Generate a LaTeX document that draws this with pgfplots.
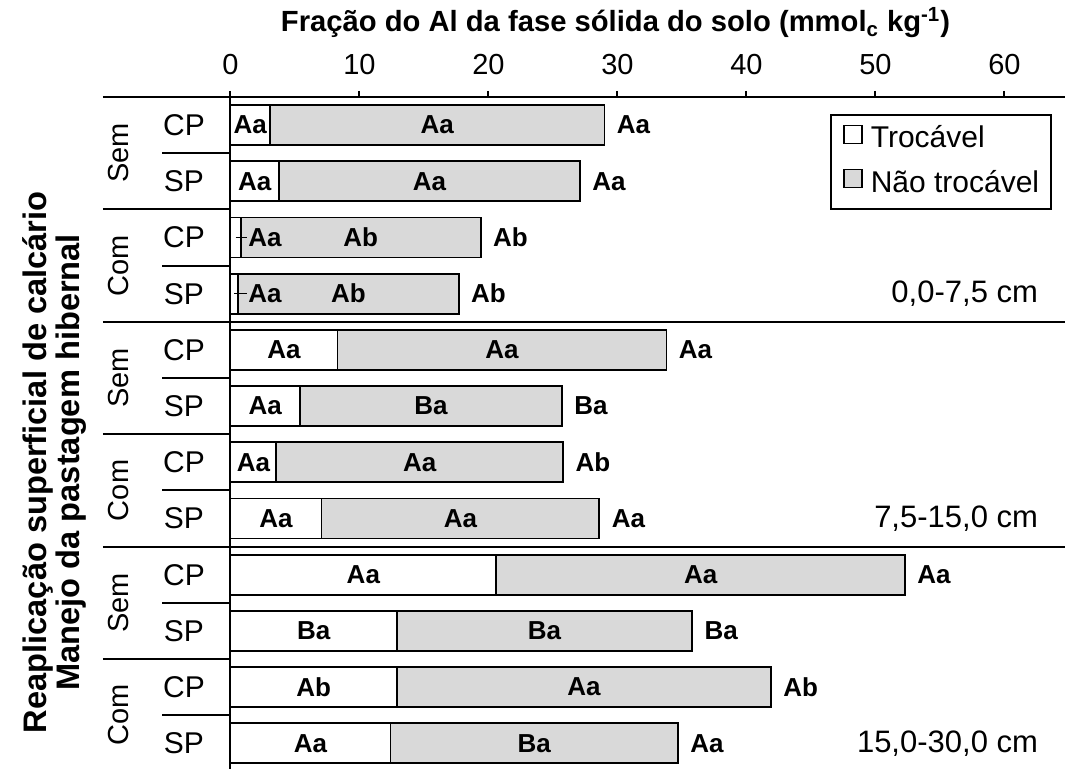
\documentclass[border=0pt]{standalone}
\usepackage{fontspec}
\setmainfont{Liberation Sans}
\usepackage{pgfplots}
\usepackage{pgfplotstable}
\pgfplotsset{compat=1.18}
\definecolor{cinza}{HTML}{D9D9D9}

% p = 13 - linha (linha 1 no topo)
\pgfplotstableread{
p  troc  nao
12 3.06  25.94
11 3.76  23.34
10 0.79  18.61
9  0.60  17.10
8  8.30  25.50
7  5.40  20.30
6  3.55  22.25
5  7.05  21.55
4  20.60 31.70
3  12.90 22.90
2  12.90 29.00
1  12.40 22.30
}\dados

\tikzset{lab/.style={font=\bfseries\fontsize{13}{15}\selectfont, inner sep=0pt}}
% #1 p, #2 trocavel, #3 total, #4-#6 letras
\newcommand\rotulos[6]{%
  \node[lab] at (axis cs:{#2/2},#1) {#4};
  \node[lab] at (axis cs:{(#2+#3)/2},#1) {#5};
  \node[lab,anchor=west,xshift=6pt] at (axis cs:#3,#1) {#6};}

\begin{document}
\begin{tikzpicture}
\begin{axis}[
  set layers,
  width=417.25pt, height=336pt, scale only axis,
  xbar stacked, bar width=20pt,
  xmin=0, xmax=64.7, ymin=0.543, ymax=12.5,
  axis x line*=top, axis y line*=left,
  axis line style={line width=1pt},
  xtick={0,10,...,60}, xticklabel pos=upper,
  ytick=\empty,
  tick align=outside, major tick length=3pt,
  tick style={line width=1pt, black},
  xticklabel style={font=\fontsize{14.5}{16}\selectfont, yshift=4.5pt},
  /pgf/number format/assume math mode=true,
  clip=false,
  legend style={at={(1,1)}, anchor=north east, xshift=-6.5pt, yshift=-8.5pt,
    draw=black, line width=0.8pt, font=\fontsize{15}{18}\selectfont,
    inner xsep=6pt, inner ysep=5pt, row sep=7pt, column sep=0pt,
    nodes={inner xsep=0pt, inner ysep=0pt, text height=11pt, text depth=3.5pt},
    cells={anchor=west}},
  legend image code/.code={\draw[#1,line width=0.7pt] (0pt,-1.5pt) rectangle (9pt,7.5pt);
    \path (13pt,0pt);},
]
\addplot[on layer=pre main, fill=white, draw=black, line width=0.9pt] table[x=troc, y=p] {\dados};
\addlegendentry{Trocável}
\addplot[on layer=pre main, fill=cinza, draw=black, line width=0.9pt] table[x=nao, y=p] {\dados};
\addlegendentry{Não trocável}

\coordinate (tl) at (axis description cs:0,1);
\coordinate (br) at (axis description cs:1,0);

% linhas de grupo
\pgfplotsinvokeforeach{12.5,10.5,6.5,2.5}{
  \draw[line width=1pt] ([xshift=-63.75pt]axis cs:0,#1) -- (axis cs:0,#1);
}
\draw[line width=1pt] ([xshift=-63.75pt]axis cs:0,8.5) -- (axis cs:64.7,8.5);
\draw[line width=1pt] ([xshift=-63.75pt]axis cs:0,4.5) -- (axis cs:64.7,4.5);
\pgfplotsinvokeforeach{11.5,9.5,7.5,5.5,3.5,1.5}{
  \draw[line width=1pt] ([xshift=-34pt]axis cs:0,#1) -- (axis cs:0,#1);
}

% CP / SP
\pgfplotsinvokeforeach{12,10,8,6,4,2}{
  \node[font=\fontsize{15}{17}\selectfont] at ([xshift=-23.25pt]axis cs:0,#1) {CP};
}
\pgfplotsinvokeforeach{11,9,7,5,3,1}{
  \node[font=\fontsize{15}{17}\selectfont] at ([xshift=-23.25pt]axis cs:0,#1) {SP};
}
% Sem / Com
\pgfplotsinvokeforeach{11.5,7.5,3.5}{
  \node[font=\fontsize{14.5}{17}\selectfont, rotate=90] at ([xshift=-56pt]axis cs:0,#1) {Sem};
}
\pgfplotsinvokeforeach{9.5,5.5,1.5}{
  \node[font=\fontsize{14.5}{17}\selectfont, rotate=90] at ([xshift=-56pt]axis cs:0,#1) {Com};
}

% titulo do eixo y
\node[font=\bfseries\fontsize{16.3}{16.5}\selectfont, rotate=90, align=center]
  at ([xshift=-88pt]axis cs:0,6) {Reaplicação superficial de calcário\\Manejo da pastagem hibernal};

% titulo do eixo x
\node[font=\bfseries\fontsize{14.6}{16}\selectfont, anchor=base]
  at ([yshift=32.6pt]axis cs:29.85,12.5) {Fração do Al da fase sólida do solo (mmol\textsubscript{c} kg\textsuperscript{-1})};

% profundidades
\node[font=\fontsize{15.5}{18}\selectfont, anchor=east] at ([xshift=-10pt]axis cs:64.7,9) {0,0-7,5 cm};
\node[font=\fontsize{15.5}{18}\selectfont, anchor=east] at ([xshift=-10pt]axis cs:64.7,5) {7,5-15,0 cm};
\node[font=\fontsize{15.5}{18}\selectfont, anchor=east] at ([xshift=-10pt]axis cs:64.7,1) {15,0-30,0 cm};

% letras
\rotulos{12}{3.06}{29.0}{Aa}{Aa}{Aa}
\rotulos{11}{3.76}{27.1}{Aa}{Aa}{Aa}
\rotulos{8}{8.30}{33.8}{Aa}{Aa}{Aa}
\rotulos{7}{5.40}{25.7}{Aa}{Ba}{Ba}
\rotulos{6}{3.55}{25.8}{Aa}{Aa}{Ab}
\rotulos{5}{7.05}{28.6}{Aa}{Aa}{Aa}
\rotulos{4}{20.6}{52.3}{Aa}{Aa}{Aa}
\rotulos{3}{12.9}{35.8}{Ba}{Ba}{Ba}
\rotulos{2}{12.9}{41.9}{Ab}{Aa}{Ab}
\rotulos{1}{12.4}{34.7}{Aa}{Ba}{Aa}
% linhas 3 e 4: rotulo do trocavel deslocado
\node[lab] at (axis cs:2.67,10) {Aa};
\node[lab] at (axis cs:10.1,10) {Ab};
\node[lab,anchor=west,xshift=6pt] at (axis cs:19.4,10) {Ab};
\draw[line width=0.4pt] (axis cs:0.4,10) -- (axis cs:1.3,10);
\node[lab] at (axis cs:2.67,9) {Aa};
\node[lab] at (axis cs:9.15,9) {Ab};
\node[lab,anchor=west,xshift=6pt] at (axis cs:17.7,9) {Ab};
\draw[line width=0.4pt] (axis cs:0.3,9) -- (axis cs:1.3,9);
\end{axis}
\pgfresetboundingbox
\path[use as bounding box] ([xshift=-115.25pt,yshift=48.5pt]tl) rectangle (br);
\end{tikzpicture}
\end{document}
